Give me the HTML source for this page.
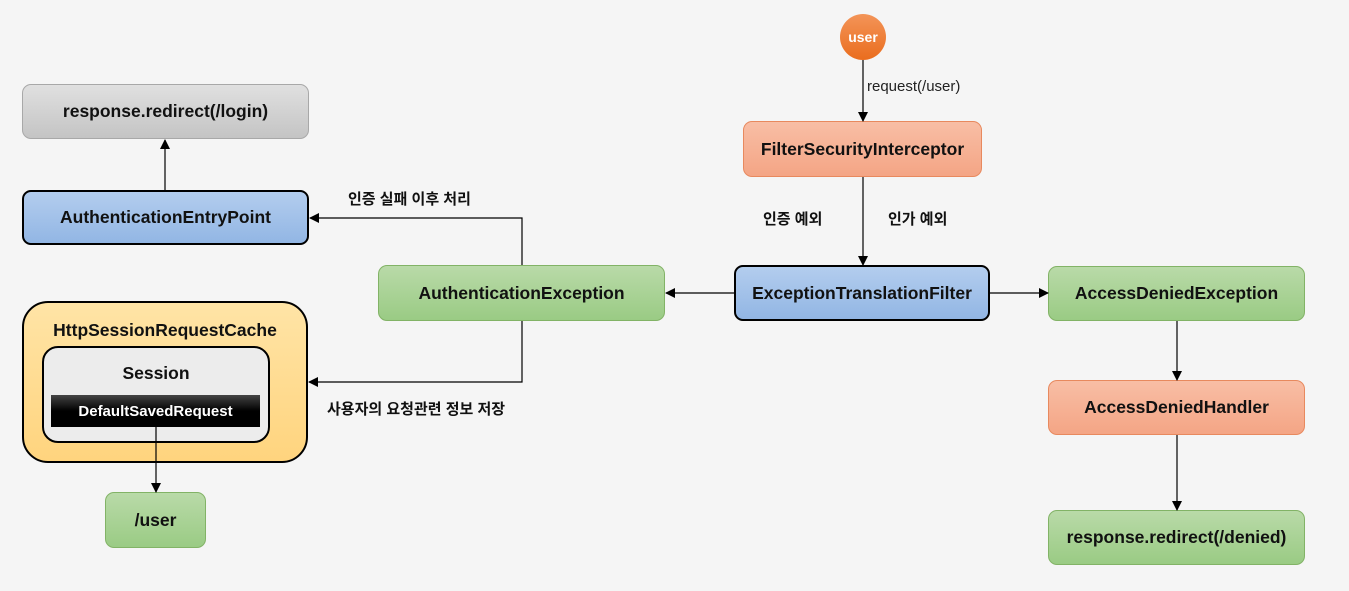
<!DOCTYPE html>
<html><head><meta charset="utf-8"><style>
body{margin:0;width:1349px;height:591px;background:#f5f5f5;position:relative;overflow:hidden;font-family:"Liberation Sans","Noto Sans CJK KR",sans-serif;}
.b{position:absolute;box-sizing:border-box;display:flex;align-items:center;justify-content:center;font-weight:bold;font-size:17.5px;color:#111;border-radius:9px;}
.g{background:linear-gradient(#b9daa8,#9acb84);border:1px solid #82b366;}
.bl{background:linear-gradient(#b3cdee,#92b6e4);border:2px solid #000;}
.o{background:linear-gradient(#f8bea5,#f4a585);border:1px solid #e8895e;}
.gr{background:linear-gradient(#e0e0e0,#c4c4c4);border:1px solid #a8a8a8;}
.t{position:absolute;font-size:15px;font-weight:bold;color:#111;white-space:nowrap;}
</style></head><body>
<div class="b" style="left:840px;top:14px;width:46px;height:46px;border-radius:50%;background:linear-gradient(#f39458,#ea6d1e);color:#fff;font-size:14px;">user</div>
<div class="t" style="left:867px;top:78px;font-size:15px;font-weight:normal;color:#222">request(/user)</div>
<div class="b gr" style="left:22px;top:84px;width:287px;height:55px;">response.redirect(/login)</div>
<div class="b bl" style="left:22px;top:190px;width:287px;height:55px;">AuthenticationEntryPoint</div>
<div class="b" style="left:22px;top:301px;width:286px;height:162px;border:2px solid #000;border-radius:26px;background:linear-gradient(#ffe4a6,#ffd47e);align-items:flex-start;padding-top:17px;">HttpSessionRequestCache</div>
<div class="b" style="left:42px;top:346px;width:228px;height:97px;border:2px solid #000;border-radius:16px;background:#ececec;align-items:flex-start;padding-top:15px;">Session</div>
<div class="b" style="left:51px;top:395px;width:209px;height:32px;border-radius:0;background:linear-gradient(#444,#000 50%);color:#fff;font-size:15px;">DefaultSavedRequest</div>
<div class="b g" style="left:105px;top:492px;width:101px;height:56px;">/user</div>
<div class="b g" style="left:378px;top:265px;width:287px;height:56px;">AuthenticationException</div>
<div class="b bl" style="left:734px;top:265px;width:256px;height:56px;">ExceptionTranslationFilter</div>
<div class="b o" style="left:743px;top:121px;width:239px;height:56px;">FilterSecurityInterceptor</div>
<div class="b g" style="left:1048px;top:266px;width:257px;height:55px;">AccessDeniedException</div>
<div class="b o" style="left:1048px;top:380px;width:257px;height:55px;">AccessDeniedHandler</div>
<div class="b g" style="left:1048px;top:510px;width:257px;height:55px;">response.redirect(/denied)</div>
<div class="t" style="left:348px;top:188px;">인증 실패 이후 처리</div>
<div class="t" style="left:327px;top:398px;">사용자의 요청관련 정보 저장</div>
<div class="t" style="left:763px;top:208px;">인증 예외</div>
<div class="t" style="left:888px;top:208px;">인가 예외</div>
<svg width="1349" height="591" style="position:absolute;left:0;top:0">
<defs><marker id="a" markerWidth="10" markerHeight="10" refX="9" refY="5" orient="auto" markerUnits="userSpaceOnUse"><path d="M0,0 L10,5 L0,10 z" fill="#000"/></marker></defs>
<g stroke="#000" stroke-width="1.2" fill="none" marker-end="url(#a)">
<path d="M863,60 V121"/><path d="M863,177 V265"/>
<path d="M734,293 H666"/><path d="M990,293 H1048"/>
<path d="M522,265 V218 H310"/><path d="M522,321 V382 H309"/>
<path d="M165,190 V140"/><path d="M156,427 V492"/>
<path d="M1177,321 V380"/><path d="M1177,435 V510"/>
</g></svg>
</body></html>
